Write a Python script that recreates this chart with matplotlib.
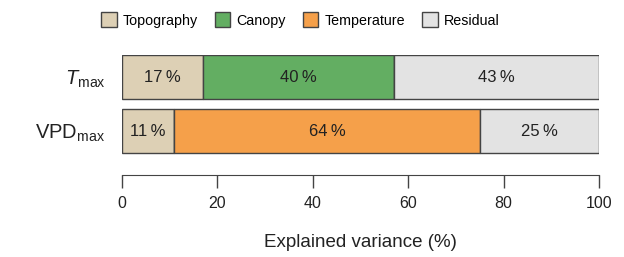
import matplotlib.pyplot as plt
import numpy as np

plt.rcParams['font.family'] = ['Liberation Sans', 'DejaVu Sans']
plt.rcParams['mathtext.fontset'] = 'custom'
plt.rcParams['mathtext.rm'] = 'Liberation Sans'
plt.rcParams['mathtext.it'] = 'Liberation Sans:italic'

# data
variables = [r'$T_{\mathregular{max}}$', r'$\mathregular{VPD_{max}}$']
components = ['Topography', 'Canopy', 'Temperature', 'Residual']
topography = [17, 11]
canopy = [40, 0]
temperature = [0, 64]
residual = [43, 25]
colors = ['#ddd0b5', '#63ae62', '#f5a04a', '#e3e3e3']

fig = plt.figure(figsize=(6.24, 2.57), dpi=100)
W, H = 624, 257
ax = fig.add_axes([122 / W, 1 - 175 / H, (599 - 122) / W, (175 - 55) / H])

ypos = [1, 0]
series = [topography, canopy, temperature, residual]
left = np.zeros(len(variables))
for name, vals, col in zip(components, series, colors):
    vals = np.array(vals, dtype=float)
    ax.barh(ypos, vals, left=left, height=0.815, color=col,
            edgecolor='#444444', linewidth=1.0, label=name)
    for y, l, v in zip(ypos, left, vals):
        if v > 0:
            ax.text(l + v / 2, y, '%d\u2009%%' % v, ha='center', va='center',
                    fontsize=12, color='#222222')
    left += vals

ax.set_xlim(0, 100)
ax.set_ylim(-0.815, 1.41)
ax.set_yticks(ypos)
ax.set_yticklabels(variables, fontsize=14.5, color='#222222')
ax.tick_params(axis='y', length=0, pad=12)
ax.set_xticks([0, 20, 40, 60, 80, 100])
ax.tick_params(axis='x', length=9, width=1, color='#444444', pad=6,
               labelsize=11.5, labelcolor='#222222')
for s in ['top', 'right', 'left']:
    ax.spines[s].set_visible(False)
ax.spines['bottom'].set_color('#444444')
ax.set_xlabel('Explained variance (%)', fontsize=13.5, color='#222222', labelpad=17)

fig.legend(loc='center left', bbox_to_anchor=(101 / W, 1 - 20 / H), ncol=4,
           frameon=False, fontsize=10.3, handlelength=1.1, handleheight=1.25,
           handletextpad=0.4, columnspacing=1.2, borderpad=0, borderaxespad=0)

fig.savefig('out.png', dpi=100)
